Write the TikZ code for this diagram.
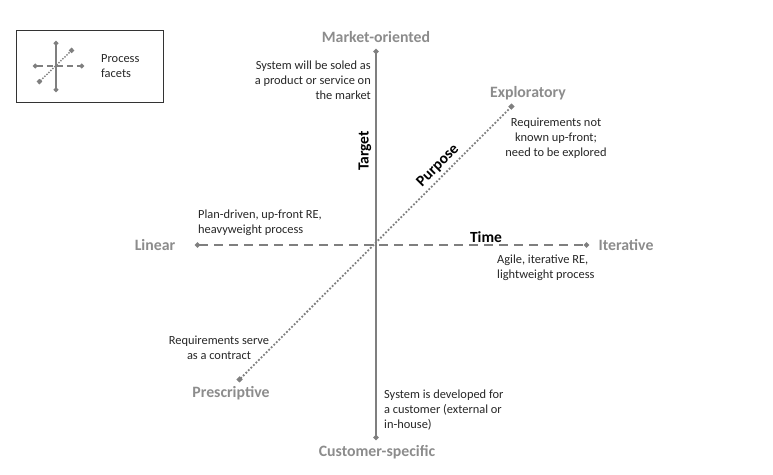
\documentclass[tikz,border=0pt]{standalone}
\usepackage{fontspec}
\setmainfont{Carlito}
\usetikzlibrary{arrows.meta}
\definecolor{axisgray}{HTML}{7F7F7F}
\definecolor{headgray}{HTML}{8C8C8C}
\definecolor{notetext}{HTML}{262626}
\tikzset{
  x=1pt,y=-1pt,
  pole/.style={font=\fontsize{15.8}{18}\selectfont\bfseries,text=headgray,inner sep=0pt},
  note/.style={font=\fontsize{12.4}{15}\selectfont,text=notetext,inner sep=0pt},
  facet/.style={font=\fontsize{15.5}{18}\selectfont\bfseries,text=black,inner sep=0pt},
  solidaxis/.style={draw=axisgray,line width=2.2pt,{Circle[length=5pt,width=5pt]}-{Circle[length=5pt,width=5pt]}},
  dashaxis/.style={draw=axisgray,line width=2pt,dash pattern=on 9pt off 6pt,{Circle[length=5pt,width=5pt]}-{Circle[length=5pt,width=5pt]}},
  dotaxis/.style={draw=axisgray,line width=1.8pt,dash pattern=on 1.8pt off 1.8pt,{Square[length=4.5pt,width=4.5pt]}-{Square[length=4.5pt,width=4.5pt]}},
  smallsolid/.style={draw=axisgray,line width=1.6pt,{Circle[length=4.5pt,width=4.5pt]}-{Circle[length=4.5pt,width=4.5pt]}},
  smalldash/.style={draw=axisgray,line width=1.5pt,dash pattern=on 6pt off 4pt,{Circle[length=4.5pt,width=4.5pt]}-{Circle[length=4.5pt,width=4.5pt]}},
  smalldot/.style={draw=axisgray,line width=1.4pt,dash pattern=on 1.4pt off 1.4pt,{Square[length=4pt,width=4pt]}-{Square[length=4pt,width=4pt]}},
}
\begin{document}
\begin{tikzpicture}
\useasboundingbox (0,0) rectangle (773,474);
% legend
\node[draw=black!80,line width=0.9pt,minimum width=147pt,minimum height=72pt,inner sep=0pt] (legend) at (89.5,66) {};
\coordinate (lt) at (56,41); \coordinate (lb) at (56,92);
\coordinate (ll) at (33,66); \coordinate (lr) at (84,66);
\coordinate (ld) at (38,83); \coordinate (lu) at (73,49);
\draw[smalldot] (ld) -- (lu);
\draw[smalldash] (ll) -- (lr);
\draw[smallsolid] (lt) -- (lb);
\node[note,align=left,anchor=west] (legendtext) at (101,66.5) {Process\\facets};
% axes
\coordinate (top) at (376,49); \coordinate (bottom) at (376,440);
\coordinate (left) at (195,245); \coordinate (right) at (589,245);
\coordinate (pres) at (238,381); \coordinate (expl) at (513,105);
\draw[dotaxis] (pres) -- (expl);
\draw[dashaxis] (left) -- (right);
\draw[solidaxis] (top) -- (bottom);
% poles
\node[pole] (mo) at (376,37) {Market-oriented};
\node[pole] (cs) at (377,452) {Customer-specific};
\node[pole] (li) at (155,245) {Linear};
\node[pole] (it) at (626,245) {Iterative};
\node[pole] (ex) at (528,93) {Exploratory};
\node[pole] (pr) at (231,393.5) {Prescriptive};
% facet names
\node[facet,rotate=90] (target) at (365,151) {Target};
\node[facet] (time) at (486,237) {Time};
\node[facet,rotate=45] (purpose) at (438,166) {Purpose};
% notes
\node[note,align=right,anchor=east] (n1) at (371,80) {System will be soled as\\a product or service on\\the market};
\node[note,align=center] (n2) at (556,138) {Requirements not\\known up-front;\\need to be explored};
\node[note,align=left,anchor=west] (n3) at (198,223) {Plan-driven, up-front RE,\\heavyweight process};
\node[note,align=left,anchor=west] (n4) at (497,268) {Agile, iterative RE,\\lightweight process};
\node[note,align=center] (n5) at (219,348) {Requirements serve\\as a contract};
\node[note,align=left,anchor=west] (n6) at (384,410) {System is developed for\\a customer (external or\\in-house)};
\end{tikzpicture}
\end{document}
